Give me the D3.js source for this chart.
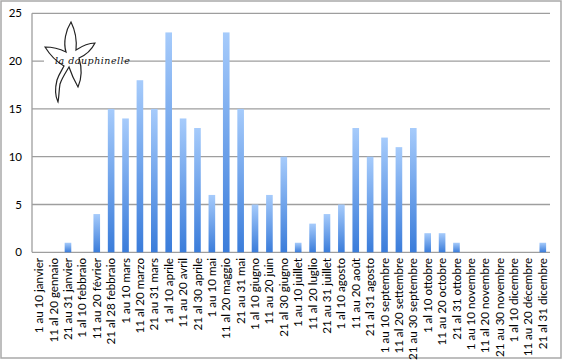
<!DOCTYPE html>
<html>
<head>
<meta charset="utf-8">
<script src="https://cdn.jsdelivr.net/npm/d3@7"></script>
<style>
  body { margin: 0; background: #fff; }
  text.lbl { font-family: Lato, "Liberation Sans", sans-serif; fill: #000; }
  text.logo { font-family: "DejaVu Serif", "Liberation Serif", serif; font-style: italic; fill: #111; }
</style>
</head>
<body>
<svg id="chart"></svg>
<script>
    var periods = [
        "1 au 10 janvier", "11 al 20 gennaio", "21 au 31 janvier",
        "1 al 10 febbraio", "11 au 20 février", "21 al 28 febbraio",
        "1 au 10 mars", "11 al 20 marzo", "21 au 31 mars",
        "1 al 10 aprile", "11 au 20 avril", "21 al 30 aprile",
        "1 au 10 mai", "11 al 20 maggio", "21 au 31 mai",
        "1 al 10 giugno", "11 au 20 juin", "21 al 30 giugno",
        "1 au 10 juillet", "11 al 20 luglio", "21 au 31 juillet",
        "1 al 10 agosto", "11 au 20 août", "21 al 31 agosto",
        "1 au 10 septembre", "11 al 20 settembre", "21 au 30 septembre",
        "1 al 10 ottobre", "11 au 20 octobre", "21 al 31 ottobre",
        "1 au 10 novembre", "11 al 20 novembre", "21 au 30 novembre",
        "1 al 10 dicembre", "11 au 20 décembre", "21 al 31 dicembre"
    ];
    var counts = [
        0, 0, 1, 0, 4, 15, 14, 18, 15, 23, 14, 13,
        6, 23, 15, 5, 6, 10, 1, 3, 4, 5, 13, 10,
        12, 11, 13, 2, 2, 1, 0, 0, 0, 0, 0, 1
    ];
    var yTicks = [0, 5, 10, 15, 20, 25];

    var width = 563;
    var height = 362;
    var chart = d3.select('#chart')
        .attr('width', width)
        .attr('height', height);

    var x = d3.scaleBand().domain(periods).range([32, 550]).paddingInner(0.54).paddingOuter(0.27);
    var y = d3.scaleLinear().domain([0, 25]).range([252.3, 13.3]);

    // outer frame
    chart.append('rect')
        .attr('x', 1).attr('y', 1)
        .attr('width', 560).attr('height', 357)
        .attr('fill', '#fff')
        .attr('stroke', '#a9a9a9')
        .attr('stroke-width', 1.5);

    var grad = chart.append('defs').append('linearGradient')
        .attr('id', 'barFill')
        .attr('x1', 0).attr('y1', 0).attr('x2', 0).attr('y2', 1);
    grad.append('stop').attr('offset', '0%').attr('stop-color', '#a6cbfb');
    grad.append('stop').attr('offset', '100%').attr('stop-color', '#3a7cda');

    // gridlines
    chart.append('g').selectAll('line')
        .data(yTicks)
        .join('line')
        .attr('x1', 32).attr('x2', 550)
        .attr('y1', d => y(d)).attr('y2', d => y(d))
        .attr('stroke', '#9e9e9e')
        .attr('stroke-width', 1.3);

    // y axis line
    chart.append('line')
        .attr('x1', 32).attr('x2', 32)
        .attr('y1', y(25)).attr('y2', y(0))
        .attr('stroke', '#9e9e9e')
        .attr('stroke-width', 1.3);

    // y tick labels
    chart.append('g').selectAll('text')
        .data(yTicks)
        .join('text')
        .attr('class', 'lbl')
        .attr('x', 22)
        .attr('y', d => y(d))
        .attr('dy', '0.35em')
        .attr('text-anchor', 'end')
        .attr('font-size', 11.5)
        .text(d => d);

    // bars
    chart.append('g').selectAll('rect')
        .data(counts)
        .join('rect')
        .attr('x', (d, i) => x(periods[i]))
        .attr('width', x.bandwidth())
        .attr('y', d => y(d))
        .attr('height', d => y(0) - y(d))
        .attr('fill', 'url(#barFill)');

    // category labels
    chart.append('g').selectAll('text')
        .data(periods)
        .join('text')
        .attr('class', 'lbl')
        .attr('transform', d => 'translate(' + (x(d) + x.bandwidth() / 2) + ',258) rotate(-90)')
        .attr('dy', '0.35em')
        .attr('text-anchor', 'end')
        .attr('font-size', 11.6)
        .text(d => d);

    // logo "la dauphinelle"
    var logo = chart.append('g');
    logo.append('rect')
        .attr('x', 44).attr('y', 55).attr('width', 79).attr('height', 12)
        .attr('fill', '#fff');
    logo.append('path')
        .attr('d', 'M66,52 C63,42 66,30 71,22 C75,30 77,40 76,50 ' +
                   'C82,46 88,43 95,43 C92,49 86,55 79,58 ' +
                   'C82,68 82,78 78,87 C74,80 71,73 69,67 ' +
                   'C66,72 62,78 60,84 C59,90 59,97 58,102 ' +
                   'C55,96 55,88 57,80 C59,74 62,70 64,66 ' +
                   'C57,62 50,55 45,47 C52,47 60,49 66,52 Z')
        .attr('fill', 'none')
        .attr('stroke', '#222')
        .attr('stroke-width', 1.2);
    logo.append('text')
        .attr('class', 'logo')
        .attr('x', 55).attr('y', 64)
        .attr('font-size', 9.5)
        .attr('letter-spacing', 0.5)
        .text('la dauphinelle');
</script>
</body>
</html>
